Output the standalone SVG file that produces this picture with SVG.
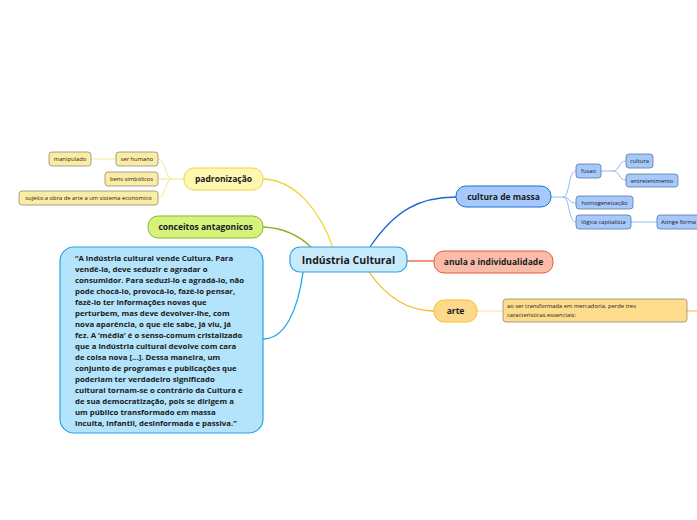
<svg xmlns="http://www.w3.org/2000/svg" width="697" height="520" viewBox="0 0 697 520">
<style>
text{font-family:"Open Sans","Noto Sans","Liberation Sans",sans-serif;fill:#1a1a1a}
.main{font-size:8.5px;font-weight:bold;text-anchor:middle}
.small{font-size:5.8px;text-anchor:middle}
.quote{font-size:7.8px;font-weight:bold}
.c{fill:none;stroke-width:1.3}
.s{fill:none;stroke-width:1}
.ynode{fill:#faeca4;stroke:#8f8c78;stroke-width:0.8}
.bnode{fill:#a6c8fb;stroke:#5877a6;stroke-width:0.8}
</style>
<rect width="697" height="520" fill="#ffffff"/>
<g id="connectors">
<path class="c" stroke="#f0d437" d="M263,179 C295,180 320,210 333,248"/>
<path class="c" stroke="#8bb21e" d="M263,227 C285,228 300,236 312,248"/>
<path class="c" stroke="#23a3ef" d="M303,272 C298,310 285,339 263,339"/>
<path class="c" stroke="#1a66d6" d="M370,247 C395,210 420,197 456,197"/>
<path class="c" stroke="#ee5a30" d="M407,261 L434,261"/>
<path class="c" stroke="#f8b81c" d="M369,272 C385,295 405,311 434,311"/>
<path class="s" stroke="#f6e690" d="M184,179 L172,179 C165,179 166,159 158,159 M172,179 L158,179 M172,179 C165,179 166,198 158,198 M116,159 L91,159"/>
<path class="s" stroke="#8fbaf3" d="M551,197 L563,197 C570,197 568,171 576,171 M563,197 C570,197 568,203 576,203 M563,197 C570,197 568,222 576,222 M601,171 L613,171 C620,171 618,161 626,161 M613,171 C620,171 618,180 626,180 M631,222 L657,222"/>
<path class="s" stroke="#fde0a0" d="M477,311 L503,311"/>
<path class="s" stroke="#f8b81c" d="M687,311 L697,311"/>
</g>
<g id="central">
<rect x="290" y="247" width="117" height="25" rx="10" fill="#c7eafc" stroke="#3a9ee0" stroke-width="1.2"/>
<text x="348.5" y="263.5" style="font-size:10.5px;font-weight:bold;text-anchor:middle">Indústria Cultural</text>
</g>
<g id="padronizacao">
<rect x="184" y="168" width="79" height="22" rx="10" fill="#fef7b1" stroke="#f0d640" stroke-width="1"/>
<text class="main" x="223.5" y="182">padronização</text>
</g>
<g id="ser-humano">
<rect class="ynode" x="116" y="152" width="42" height="14" rx="3"/>
<text class="small" x="137" y="161">ser humano</text>
</g>
<g id="manipulado">
<rect class="ynode" x="49" y="152" width="42" height="14" rx="3"/>
<text class="small" x="70" y="161">manipulado</text>
</g>
<g id="bens-simbolicos">
<rect class="ynode" x="105" y="172" width="53" height="14" rx="3"/>
<text class="small" x="131.5" y="181">bens simbólicos</text>
</g>
<g id="sujeito">
<rect class="ynode" x="19" y="191" width="139" height="14" rx="3"/>
<text class="small" x="88.5" y="200">sujeito a obra de arte a um sistema economico</text>
</g>
<g id="conceitos">
<rect x="148" y="216" width="115" height="22" rx="10" fill="#d4f27c" stroke="#8bb92a" stroke-width="1"/>
<text class="main" x="205.5" y="230">conceitos antagonicos</text>
</g>
<g id="quote">
<rect x="60" y="247" width="203" height="186" rx="14" fill="#b3e4fb" stroke="#28a3e8" stroke-width="1.2"/>
<text class="quote" x="75">
<tspan x="75" y="261">“A indústria cultural vende Cultura. Para</tspan>
<tspan x="75" y="272">vendê-la, deve seduzir e agradar o</tspan>
<tspan x="75" y="283">consumidor. Para seduzi-lo e agradá-lo, não</tspan>
<tspan x="75" y="294">pode chocá-lo, provocá-lo, fazê-lo pensar,</tspan>
<tspan x="75" y="305">fazê-lo ter informações novas que</tspan>
<tspan x="75" y="316">perturbem, mas deve devolver-lhe, com</tspan>
<tspan x="75" y="327">nova aparência, o que ele sabe, já viu, já</tspan>
<tspan x="75" y="338">fez. A ‘média’ é o senso-comum cristalizado</tspan>
<tspan x="75" y="349">que a indústria cultural devolve com cara</tspan>
<tspan x="75" y="360">de coisa nova [...]. Dessa maneira, um</tspan>
<tspan x="75" y="371">conjunto de programas e publicações que</tspan>
<tspan x="75" y="382">poderiam ter verdadeiro significado</tspan>
<tspan x="75" y="393">cultural tornam-se o contrário da Cultura e</tspan>
<tspan x="75" y="404">de sua democratização, pois se dirigem a</tspan>
<tspan x="75" y="415">um público transformado em massa</tspan>
<tspan x="75" y="426">inculta, infantil, desinformada e passiva.”</tspan>
</text>
</g>
<g id="cultura-de-massa">
<rect x="456" y="186" width="95" height="21" rx="10" fill="#a6c9fb" stroke="#1c6bd8" stroke-width="1"/>
<text class="main" x="503.5" y="199.5">cultura de massa</text>
</g>
<g id="fusao">
<rect class="bnode" x="576" y="164" width="25" height="14" rx="3"/>
<text class="small" x="588.5" y="173">fusao</text>
</g>
<g id="cultura">
<rect class="bnode" x="626" y="154" width="27" height="14" rx="3"/>
<text class="small" x="639.5" y="163">cultura</text>
</g>
<g id="entretenimento">
<rect class="bnode" x="626" y="174" width="52" height="13" rx="3"/>
<text class="small" x="652" y="182.5">entretenimento</text>
</g>
<g id="homogeneizacao">
<rect class="bnode" x="576" y="196" width="57" height="13" rx="3"/>
<text class="small" x="604.5" y="204.5">homogeneização</text>
</g>
<g id="logica-capitalista">
<rect class="bnode" x="576" y="215" width="55" height="14" rx="3"/>
<text class="small" x="603.5" y="224">lógica capitalista</text>
</g>
<g id="atinge-forma">
<rect class="bnode" x="657" y="215" width="60" height="14" rx="3"/>
<text class="small" x="661" y="224" style="text-anchor:start">Atinge forma</text>
</g>
<g id="anula">
<rect x="434" y="251" width="119" height="22" rx="10" fill="#f8bca9" stroke="#ea5a36" stroke-width="1"/>
<text class="main" x="493.5" y="265">anula a individualidade</text>
</g>
<g id="arte">
<rect x="434" y="300" width="43" height="22" rx="10" fill="#fed98b" stroke="#f9bd2a" stroke-width="1"/>
<text class="main" x="455.5" y="314">arte</text>
</g>
<g id="ao-ser">
<rect x="503" y="299" width="184" height="23" rx="3" fill="#fedc8e" stroke="#8f8c78" stroke-width="0.8"/>
<text class="small" style="text-anchor:start">
<tspan x="507" y="308">ao ser transformada em mercadoria, perde tres</tspan>
<tspan x="507" y="317">caracteristicas essenciais:</tspan>
</text>
</g>
</svg>
